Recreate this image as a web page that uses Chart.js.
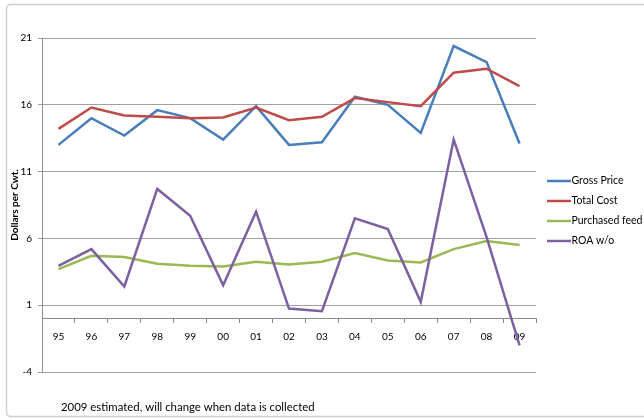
<!DOCTYPE html>
<html>
<head>
<meta charset="utf-8">
<script src="https://cdn.jsdelivr.net/npm/chart.js@4/dist/chart.umd.min.js"></script>
<style>
  html, body { margin: 0; padding: 0; background: #fff; }
  #wrap { width: 644px; height: 418px; position: relative; }
</style>
</head>
<body>
<div id="wrap"><canvas id="c" width="644" height="418"></canvas></div>
<script>
// Years (two-digit labels)
const years = ['95', '96', '97', '98', '99', '00', '01', '02', '03', '04', '05', '06', '07', '08', '09'];

// Dollars per hundredweight
const grossPrice    = [13.0, 15.0, 13.7, 15.6, 15.0, 13.4, 15.9, 13.0, 13.2, 16.6, 16.0, 13.9, 20.4, 19.2, 13.1];
const totalCost     = [14.2, 15.8, 15.2, 15.1, 15.0, 15.05, 15.8, 14.85, 15.1, 16.5, 16.2, 15.9, 18.4, 18.7, 17.4];
const purchasedFeed = [3.7, 4.7, 4.6, 4.1, 3.95, 3.9, 4.25, 4.05, 4.25, 4.9, 4.35, 4.2, 5.2, 5.8, 5.5];
const roaWo         = [3.95, 5.2, 2.4, 9.7, 7.7, 2.5, 8.0, 0.75, 0.55, 7.5, 6.7, 1.25, 13.4, 6.1, -2.0];

// Value axis range and step
const yMin = -4;
const yMax = 21;
const yStep = 5;

const seriesNames = ['Gross Price', 'Total Cost', 'Purchased feed', 'ROA w/o'];
const footnote = '2009 estimated, will change when data is collected';

const FONT = 'Lato, "Open Sans", sans-serif';

// White background and the light outer frame
const framePlugin = {
  id: 'frame',
  beforeDraw(chart) {
    const ctx = chart.ctx;
    ctx.save();
    ctx.fillStyle = '#ffffff';
    ctx.fillRect(0, 0, chart.width, chart.height);
    ctx.strokeStyle = '#cfcfcf';
    ctx.lineWidth = 1.5;
    ctx.beginPath();
    ctx.roundRect(6.5, 4.5, chart.width + 10, 412, 4);
    ctx.stroke();
    ctx.restore();
  }
};

// Legend on the right and the note underneath the plot
const sideLegendPlugin = {
  id: 'sideLegend',
  afterDraw(chart) {
    const ctx = chart.ctx;
    ctx.save();
    ctx.font = '10.5px ' + FONT;
    ctx.textBaseline = 'middle';
    ctx.textAlign = 'left';
    const x0 = 547, lineLen = 24;
    chart.data.datasets.forEach((ds, i) => {
      const y = 181 + i * 20;
      ctx.strokeStyle = ds.borderColor;
      ctx.lineWidth = 2.5;
      ctx.beginPath();
      ctx.moveTo(x0, y);
      ctx.lineTo(x0 + lineLen, y);
      ctx.stroke();
      ctx.fillStyle = '#000';
      ctx.fillText(ds.label, x0 + lineLen + 0.5, y);
    });
    ctx.font = '11.4px ' + FONT;
    ctx.fillText(footnote, 61, 407);
    ctx.restore();
  }
};

const lineStyle = { borderWidth: 2.5, pointRadius: 0, pointHoverRadius: 0, tension: 0, fill: false };

new Chart(document.getElementById('c'), {
  type: 'line',
  data: {
    labels: years,
    datasets: [
      { label: seriesNames[0], data: grossPrice,    borderColor: '#4A7EBB', order: 4, ...lineStyle },
      { label: seriesNames[1], data: totalCost,     borderColor: '#BE4B48', order: 3, ...lineStyle },
      { label: seriesNames[2], data: purchasedFeed, borderColor: '#98B954', order: 2, ...lineStyle },
      { label: seriesNames[3], data: roaWo,         borderColor: '#7D60A0', order: 1, ...lineStyle }
    ]
  },
  options: {
    responsive: false,
    animation: false,
    devicePixelRatio: 1,
    layout: { padding: { left: 0, top: 38, right: 108, bottom: 46 } },
    plugins: {
      legend: { display: false },
      tooltip: { enabled: false },
      title: { display: false }
    },
    scales: {
      x: {
        position: { y: 0 },
        offset: true,
        grid: { offset: true, drawOnChartArea: false, drawTicks: true, tickLength: 4, color: '#8c8c8c', lineWidth: 1 },
        border: { display: true, color: '#8c8c8c', width: 1 },
        ticks: { padding: 8, color: '#000', autoSkip: false, maxRotation: 0, font: { family: FONT, size: 10 } }
      },
      y: {
        min: yMin,
        max: yMax,
        ticks: { stepSize: yStep, padding: 6, color: '#000', font: { family: FONT, size: 10 } },
        grid: { color: '#a0a0a0', lineWidth: 1, tickLength: 4, drawTicks: true },
        border: { display: true, color: '#8c8c8c', width: 1 },
        title: {
          display: true,
          text: 'Dollars per Cwt.',
          color: '#000',
          font: { family: FONT, size: 10, weight: 'bold' },
          padding: { top: 9, bottom: 0 }
        },
        afterFit(scale) { scale.width = 42; }
      }
    }
  },
  plugins: [framePlugin, sideLegendPlugin]
});
</script>
</body>
</html>
